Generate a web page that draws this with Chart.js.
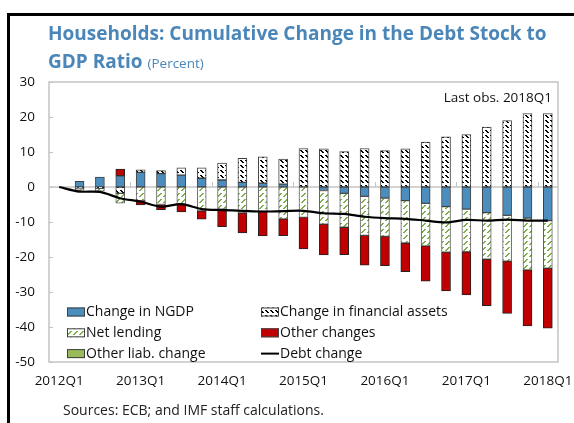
<!DOCTYPE html>
<html>
<head>
<meta charset="utf-8">
<script src="https://cdn.jsdelivr.net/npm/chart.js@4.4.0/dist/chart.umd.min.js"></script>
<style>
  html, body { margin: 0; padding: 0; background: #fff; }
  body { width: 574px; height: 423px; position: relative; overflow: hidden; font-family: 'Open Sans', sans-serif; }
  #frame { position: absolute; left: 7px; top: 13px; width: 700px; height: 600px;
           border-left: 3px solid #000; border-top: 3px solid #000; }
  #chart { position: absolute; left: 0; top: 0; }
  #title { position: absolute; left: 48px; top: 19px; color: #4A86B8; font-weight: bold;
           font-size: 19px; line-height: 28px; white-space: nowrap; }
  #title span { font-weight: normal; font-size: 13.5px; }
  #lastObs { position: absolute; right: 22px; top: 88px; font-size: 13.5px; color: #111; }
  #sources { position: absolute; left: 63px; top: 400px; font-size: 14px; color: #222; }
</style>
</head>
<body>
<div id="frame"></div>
<canvas id="chart" width="574" height="423"></canvas>
<div id="title">Households: Cumulative Change in the Debt Stock to<br>GDP Ratio <span>(Percent)</span></div>
<div id="lastObs">Last obs. 2018Q1</div>
<div id="sources">Sources: ECB; and IMF staff calculations.</div>
<script>
(function () {
  // ─── Data ──────────────────────────────────────────────
  var quarters = ['2012Q1', '2012Q2', '2012Q3', '2012Q4', '2013Q1', '2013Q2', '2013Q3', '2013Q4',
    '2014Q1', '2014Q2', '2014Q3', '2014Q4', '2015Q1', '2015Q2', '2015Q3', '2015Q4',
    '2016Q1', '2016Q2', '2016Q3', '2016Q4', '2017Q1', '2017Q2', '2017Q3', '2017Q4', '2018Q1'];
  var yTicks = [30, 20, 10, 0, -10, -20, -30, -40, -50];

  var ngdp = [0, 1.6, 2.8, 3.2, 4.2, 3.8, 3.4, 2.5, 2.0, 1.3, 1.1, 0.8, 0,
    -1.0, -1.8, -2.7, -3.2, -3.9, -4.7, -5.6, -6.3, -7.3, -8.1, -8.9, -9.6];
  var finAssets = [0, -0.5, -0.4, -1.8, 0.7, 0.9, 2.1, 3.0, 4.8, 6.9, 7.5, 7.2, 11.0,
    10.9, 10.1, 11.0, 10.4, 10.9, 12.8, 14.3, 15.0, 17.1, 19.0, 21.0, 21.0];
  var netLending = [0, -0.7, -0.8, -2.8, -3.9, -5.0, -4.9, -6.8, -6.3, -7.4, -7.0, -9.1, -8.7,
    -9.6, -9.7, -11.1, -10.9, -12.1, -12.1, -13.0, -12.2, -13.3, -13.1, -14.8, -13.6];
  var otherChanges = [0, 0, 0, 1.9, -1.2, -1.5, -2.2, -2.4, -5.0, -5.7, -7.0, -4.8, -9.0,
    -8.8, -7.8, -8.5, -8.4, -8.2, -10.1, -11.1, -12.3, -13.3, -14.9, -16.0, -17.1];
  var otherLiab = [0, 0, 0, 0, 0, 0, 0, 0, 0, 0, 0, 0, 0,
    0, 0, 0, 0, 0, 0, 0, 0, 0, 0, 0, 0];
  var debtChange = [0, -1.3, -1.4, -3.2, -4.2, -5.6, -4.9, -6.3, -6.6, -6.8, -7.0, -6.9, -6.8,
    -7.5, -7.7, -8.5, -8.9, -9.1, -9.6, -10.1, -9.4, -9.6, -9.3, -9.6, -9.6];

  // ─── Patterns ──────────────────────────────────────────
  function makePattern(size, color, cells) {
    var c = document.createElement('canvas');
    c.width = size; c.height = size;
    var g = c.getContext('2d');
    g.fillStyle = '#fff';
    g.fillRect(0, 0, size, size);
    g.fillStyle = color;
    cells.forEach(function (p) { g.fillRect(p[0], p[1], p[2], p[3]); });
    return g.createPattern(c, 'repeat');
  }

  var finPattern = makePattern(5, '#000', [[0, 0, 2, 1], [1, 1, 2, 1], [2, 2, 2, 1]]);
  var lendPattern = makePattern(6, '#7FAE4E', [[4, 1, 2, 1], [3, 2, 2, 1], [2, 3, 2, 1], [1, 4, 2, 1]]);

  var BLUE = '#4B8DBC';
  var RED = '#C00000';
  var GREEN = '#9BBB59';
  var GRID = '#C4C4C4';
  var FONT = "'Open Sans', sans-serif";

  function barSet(label, data, fill, border) {
    return {
      type: 'bar', label: label, data: data, backgroundColor: fill,
      borderColor: border, borderWidth: 1, borderSkipped: false,
      barThickness: 9, stack: 'bars', order: 1
    };
  }

  var legendItems = [
    { col: 0, row: 0, label: 'Change in NGDP', fill: BLUE },
    { col: 0, row: 1, label: 'Net lending', fill: lendPattern },
    { col: 0, row: 2, label: 'Other liab. change', fill: GREEN },
    { col: 1, row: 0, label: 'Change in financial assets', fill: finPattern },
    { col: 1, row: 1, label: 'Other changes', fill: RED },
    { col: 1, row: 2, label: 'Debt change', line: true }
  ];

  // ─── Decorations: frame, zero line, ticks, legend ─────
  var decor = {
    id: 'decor',
    beforeDatasetsDraw: function (chart) {
      var ctx = chart.ctx, a = chart.chartArea;
      var xs = chart.scales.x, ys = chart.scales.y;
      var y0 = ys.getPixelForValue(0);
      ctx.save();
      ctx.strokeStyle = GRID;
      ctx.lineWidth = 1.5;
      ctx.beginPath();
      ctx.moveTo(a.left, y0); ctx.lineTo(a.right, y0);
      ctx.stroke();
      ctx.lineWidth = 1;
      ctx.beginPath();
      for (var i = 3; i < quarters.length - 1; i += 4) {
        var xm = Math.round((xs.getPixelForValue(i) + xs.getPixelForValue(i + 1)) / 2) + 0.5;
        ctx.moveTo(xm, y0); ctx.lineTo(xm, y0 - 5);
      }
      yTicks.forEach(function (v) {
        var yy = Math.round(ys.getPixelForValue(v)) + 0.5;
        ctx.moveTo(a.left, yy); ctx.lineTo(a.left + 4, yy);
      });
      ctx.stroke();
      ctx.restore();
    },
    afterDraw: function (chart) {
      var ctx = chart.ctx, a = chart.chartArea;
      ctx.save();
      ctx.strokeStyle = GRID;
      ctx.lineWidth = 1.5;
      ctx.strokeRect(a.left, a.top, a.right - a.left, a.bottom - a.top);

      ctx.font = '14px ' + FONT;
      ctx.textBaseline = 'middle';
      legendItems.forEach(function (it) {
        var sx = it.col === 0 ? 67 : 261;
        var cy = 312 + it.row * 20.8;
        if (it.line) {
          ctx.strokeStyle = '#000';
          ctx.lineWidth = 2;
          ctx.beginPath();
          ctx.moveTo(sx, cy); ctx.lineTo(sx + 18, cy);
          ctx.stroke();
        } else {
          ctx.fillStyle = it.fill;
          ctx.fillRect(sx, cy - 4.5, 18, 9);
          ctx.strokeStyle = '#404040';
          ctx.lineWidth = 1;
          ctx.strokeRect(sx + 0.5, cy - 4, 17, 8);
        }
        ctx.fillStyle = '#111';
        ctx.fillText(it.label, sx + 19, cy);
      });
      ctx.restore();
    }
  };

  // ─── Chart ─────────────────────────────────────────────
  new Chart(document.getElementById('chart'), {
    data: {
      labels: quarters,
      datasets: [
        barSet('Change in NGDP', ngdp, BLUE, '#404040'),
        barSet('Change in financial assets', finAssets, finPattern, '#404040'),
        barSet('Net lending', netLending, lendPattern, '#606060'),
        barSet('Other changes', otherChanges, RED, '#222'),
        barSet('Other liab. change', otherLiab, GREEN, '#404040'),
        {
          type: 'line', label: 'Debt change', data: debtChange,
          borderColor: '#000', borderWidth: 2.2, pointRadius: 0,
          tension: 0.3, fill: false, stack: 'line', order: 0
        }
      ]
    },
    options: {
      responsive: false,
      animation: false,
      layout: { padding: { left: 9, top: 82, right: 16, bottom: 33 } },
      plugins: { legend: { display: false }, tooltip: { enabled: false } },
      scales: {
        x: {
          stacked: true,
          grid: { display: false, drawTicks: false },
          border: { display: false },
          afterFit: function (s) { s.height = 28; s.paddingLeft = 0; s.paddingRight = 0; },
          ticks: {
            autoSkip: false, maxRotation: 0, padding: 11,
            color: '#111', font: { family: FONT, size: 13.5 },
            callback: function (v, i) { return i % 4 === 0 ? quarters[i] : ''; }
          }
        },
        y: {
          stacked: true,
          min: -50, max: 30,
          grid: { display: false, drawTicks: false },
          border: { display: false },
          afterFit: function (s) { s.width = 40; s.paddingTop = 0; s.paddingBottom = 0; },
          afterBuildTicks: function (s) {
            s.ticks = yTicks.map(function (v) { return { value: v }; });
          },
          ticks: {
            padding: 14,
            color: '#111', font: { family: FONT, size: 13.5 }
          }
        }
      }
    },
    plugins: [decor]
  });
})();
</script>
</body>
</html>
